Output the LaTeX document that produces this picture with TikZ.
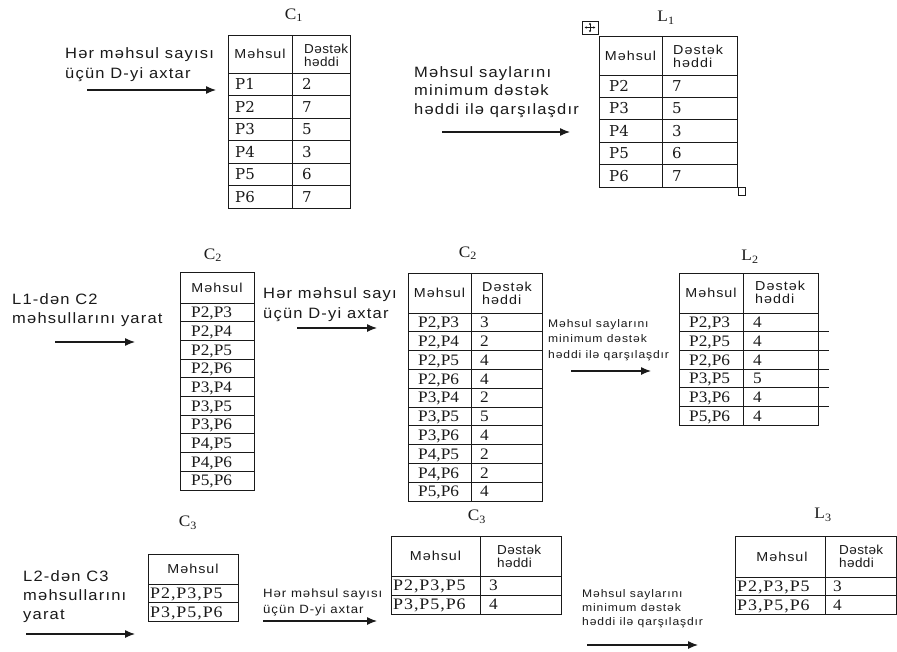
\documentclass[tikz,border=0pt]{standalone}
\usepackage{fontspec}
\usetikzlibrary{arrows.meta}
\newfontfamily\azsans[FakeStretch=1.1,LetterSpace=8]{Liberation Sans}
\newfontfamily\azsansn[FakeStretch=1.04,LetterSpace=3]{Liberation Sans}
\newfontfamily\azserif[FakeStretch=1.08]{Liberation Serif}
\newfontfamily\azserifw[FakeStretch=1.12,LetterSpace=6]{Liberation Serif}
\newfontfamily\azslab{DejaVu Serif}
\definecolor{ink}{HTML}{1A1A1A}
\tikzset{
  tabline/.style={draw=ink, line width=0.9pt},
  arrline/.style={draw=ink, line width=1.2pt, -{Latex[length=10pt,width=8pt]}},
  saytext/.style={font=\azsans\fontsize{15}{20}\selectfont, inner sep=0pt, align=left, anchor=west, text=ink},
  saysmall/.style={saytext, font=\azsans\fontsize{11}{15.5}\selectfont},
  saymid/.style={saytext, font=\azsans\fontsize{12}{15.5}\selectfont},
  hdrtext/.style={font=\azsans\fontsize{13}{13}\selectfont, inner sep=0pt, text=ink},
  hdrtwo/.style={hdrtext, align=left, anchor=west},
  hdrnar/.style={hdrtwo, font=\azsansn\fontsize{13}{13}\selectfont},
  tcslab/.style={font=\azslab\fontsize{15}{15}\selectfont, inner sep=0pt, anchor=west, text height=10.5pt, text depth=0pt, text=ink},
  tcserif/.style={font=\azserif\fontsize{16}{16}\selectfont, inner sep=0pt, anchor=west, text height=10.5pt, text depth=0pt, text=ink},
  tcwide/.style={font=\azserifw\fontsize{16}{16}\selectfont, inner sep=0pt, anchor=west, text height=10.5pt, text depth=0pt, text=ink},
  lbltext/.style={font=\azserif\fontsize{16}{16}\selectfont, inner sep=0pt, text=ink},
}
\begin{document}
\begin{tikzpicture}[x=1pt,y=-1pt]
\useasboundingbox[fill=white] (0,0) rectangle (897,651);

% ---------------- Row 1 ----------------
% C1
\node[lbltext] (lc1) at (294,15) {C\textsubscript{1}};
\draw[tabline] (228,35) rectangle (350,208);
\draw[tabline] (292,35) -- (292,208);
\node[hdrtext] (c1h1) at (260,54) {Məhsul};
\node[hdrnar] (c1h2) at (304,55) {Dəstək\\həddi};
\foreach \p/\v [count=\k from 0] in {P1/2,P2/7,P3/5,P4/3,P5/6,P6/7} {
  \draw[tabline] (228,73+\k*22.5) -- (350,73+\k*22.5);
  \node[tcslab] (c1a\k) at (235,84.25+\k*22.5) {\p};
  \node[tcslab] (c1b\k) at (302,84.25+\k*22.5) {\v};
}
\node[saytext] (t1) at (65,64.5) {Hər məhsul sayısı\\üçün D-yi axtar};
\coordinate (a1s) at (87,90); \coordinate (a1e) at (216,90);
\draw[arrline] (a1s) -- (a1e);

% L1
\node[lbltext] (ll1) at (666,18) {L\textsubscript{1}};
\draw[tabline] (599,36) rectangle (737,187);
\draw[tabline] (662,36) -- (662,187);
\node[hdrtext] (l1h1) at (630.5,55.5) {Məhsul};
\node[hdrtwo] (l1h2) at (673,56) {Dəstək\\həddi};
\foreach \p/\v [count=\k from 0] in {P2/7,P3/5,P4/3,P5/6,P6/7} {
  \draw[tabline] (599,75+\k*22.4) -- (737,75+\k*22.4);
  \node[tcslab] (l1a\k) at (609,86.2+\k*22.4) {\p};
  \node[tcslab] (l1b\k) at (672,86.2+\k*22.4) {\v};
}
% table handles
\draw[draw=ink, line width=0.7pt] (582,21) rectangle (598,34);
\draw[ink, line width=0.6pt, {Latex[length=2.2pt,width=2.6pt]}-{Latex[length=2.2pt,width=2.6pt]}] (584.5,27.5) -- (595.5,27.5);
\draw[ink, line width=0.6pt, {Latex[length=2.2pt,width=2.6pt]}-{Latex[length=2.2pt,width=2.6pt]}] (590,22.5) -- (590,32.5);
\draw[draw=ink, line width=0.7pt] (738,187) rectangle (745.5,195);

\node[saytext, font=\azsans\fontsize{15}{18.5}\selectfont] (t2) at (414,92) {Məhsul saylarını\\minimum dəstək\\həddi ilə qarşılaşdır};
\coordinate (a2s) at (442,132); \coordinate (a2e) at (570,132);
\draw[arrline] (a2s) -- (a2e);

% ---------------- Row 2 ----------------
\node[saytext, font=\azsans\fontsize{15}{19}\selectfont] (t3) at (12,310) {L1-dən C2\\məhsullarını yarat};
\coordinate (a3s) at (55,342); \coordinate (a3e) at (135,342);
\draw[arrline] (a3s) -- (a3e);

% C2 (left)
\node[lbltext] (lc2a) at (213,255) {C\textsubscript{2}};
\draw[tabline] (180,272) rectangle (254,490);
\node[hdrtext] (c2ah) at (217,288) {Məhsul};
\foreach \p [count=\k from 0] in {{P2,P3},{P2,P4},{P2,P5},{P2,P6},{P3,P4},{P3,P5},{P3,P6},{P4,P5},{P4,P6},{P5,P6}} {
  \draw[tabline] (180,303+\k*18.7) -- (254,303+\k*18.7);
  \node[tcserif] (c2a\k) at (191,312.35+\k*18.7) {\p};
}

\node[saytext] (t4) at (263,304.5) {Hər məhsul sayı\\üçün D-yi axtar};
\coordinate (a4s) at (297,328); \coordinate (a4e) at (377,328);
\draw[arrline] (a4s) -- (a4e);

% C2 (middle)
\node[lbltext] (lc2b) at (468,253) {C\textsubscript{2}};
\draw[tabline] (408,273) rectangle (542,501);
\draw[tabline] (471,273) -- (471,501);
\node[hdrtext] (c2bh1) at (439.5,293) {Məhsul};
\node[hdrtwo] (c2bh2) at (482,293.5) {Dəstək\\həddi};
\foreach \p/\v [count=\k from 0] in {{P2,P3}/3,{P2,P4}/2,{P2,P5}/4,{P2,P6}/4,{P3,P4}/2,{P3,P5}/5,{P3,P6}/4,{P4,P5}/2,{P4,P6}/2,{P5,P6}/4} {
  \draw[tabline] (408,313+\k*18.8) -- (542,313+\k*18.8);
  \node[tcserif] (c2b\k) at (418,322.4+\k*18.8) {\p};
  \node[tcserif] (c2c\k) at (480,322.4+\k*18.8) {\v};
}

\node[saysmall] (t5) at (548,340) {Məhsul saylarını\\minimum dəstək\\həddi ilə qarşılaşdır};
\coordinate (a5s) at (571,371); \coordinate (a5e) at (651,371);
\draw[arrline] (a5s) -- (a5e);

% L2
\node[lbltext] (ll2) at (750,257) {L\textsubscript{2}};
\draw[tabline] (679,273) rectangle (818,425);
\draw[tabline] (743,273) -- (743,425);
\node[hdrtext] (l2h1) at (711,293) {Məhsul};
\node[hdrtwo] (l2h2) at (755,292.5) {Dəstək\\həddi};
\foreach \p/\v [count=\k from 0] in {{P2,P3}/4,{P2,P5}/4,{P2,P6}/4,{P3,P5}/5,{P3,P6}/4,{P5,P6}/4} {
  \draw[tabline] (679,313+\k*18.7) -- (818,313+\k*18.7);
  \node[tcserif] (l2a\k) at (689,322.35+\k*18.7) {\p};
  \node[tcserif] (l2b\k) at (753,322.35+\k*18.7) {\v};
}
\foreach \k in {1,...,5} {
  \draw[tabline] (818,313+\k*18.7) -- (829,313+\k*18.7);
}

% ---------------- Row 3 ----------------
\node[saytext, font=\azsans\fontsize{15}{19}\selectfont] (t6) at (23,596.5) {L2-dən C3\\məhsullarını\\yarat};
\coordinate (a6s) at (26,634); \coordinate (a6e) at (135,634);
\draw[arrline] (a6s) -- (a6e);

% C3 (left)
\node[lbltext] (lc3a) at (188,523) {C\textsubscript{3}};
\draw[tabline] (148,554) rectangle (238,621);
\node[hdrtext] (c3ah) at (193,569) {Məhsul};
\foreach \p [count=\k from 0] in {{P2,P3,P5},{P3,P5,P6}} {
  \draw[tabline] (148,584+\k*18.5) -- (238,584+\k*18.5);
  \node[tcwide] (c3a\k) at (150,593.25+\k*18.5) {\p};
}

\node[saymid] (t7) at (263,602.5) {Hər məhsul sayısı\\üçün D-yi axtar};
\coordinate (a7s) at (263,621); \coordinate (a7e) at (377,621);
\draw[arrline] (a7s) -- (a7e);

% C3 (middle)
\node[lbltext] (lc3b) at (477,517) {C\textsubscript{3}};
\draw[tabline] (391,536) rectangle (561,614);
\draw[tabline] (480,536) -- (480,614);
\node[hdrtext] (c3bh1) at (435.5,556) {Məhsul};
\node[hdrnar] (c3bh2) at (497,556) {Dəstək\\həddi};
\foreach \p/\v [count=\k from 0] in {{P2,P3,P5}/3,{P3,P5,P6}/4} {
  \draw[tabline] (391,576+\k*19) -- (561,576+\k*19);
  \node[tcwide] (c3b\k) at (393,585.5+\k*19) {\p};
  \node[tcserif] (c3c\k) at (489,585.5+\k*19) {\v};
}

\node[saysmall, font=\azsans\fontsize{11}{14}\selectfont] (t8) at (582,609) {Məhsul saylarını\\minimum dəstək\\həddi ilə qarşılaşdır};
\coordinate (a8s) at (587,645); \coordinate (a8e) at (698,645);
\draw[arrline] (a8s) -- (a8e);

% L3
\node[lbltext] (ll3) at (823,515) {L\textsubscript{3}};
\draw[tabline] (735,536) rectangle (896,614);
\draw[tabline] (825,536) -- (825,614);
\node[hdrtext] (l3h1) at (782,556.5) {Məhsul};
\node[hdrnar] (l3h2) at (839,556) {Dəstək\\həddi};
\foreach \p/\v [count=\k from 0] in {{P2,P3,P5}/3,{P3,P5,P6}/4} {
  \draw[tabline] (735,577+\k*18.5) -- (896,577+\k*18.5);
  \node[tcwide] (l3a\k) at (737,586.25+\k*18.5) {\p};
  \node[tcserif] (l3b\k) at (833,586.25+\k*18.5) {\v};
}
\end{tikzpicture}
\end{document}
